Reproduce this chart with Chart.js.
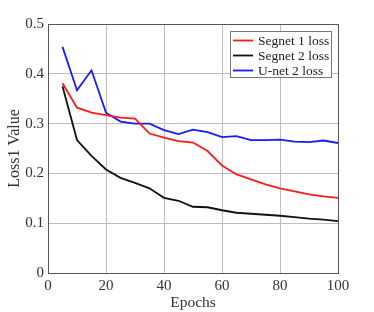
<!DOCTYPE html>
<html><head><meta charset="utf-8">
<script src="https://cdn.jsdelivr.net/npm/chart.js@4/dist/chart.umd.min.js"></script>
<style>html,body{margin:0;padding:0;background:#fff;}#wrap{width:374px;height:312px;position:relative;}</style>
</head><body><div id="wrap"><canvas id="c" width="374" height="312"></canvas></div>
<script>
const epochs = [5,10,15,20,25,30,35,40,45,50,55,60,65,70,75,80,85,90,95,100];
const segnet1 = [0.381,0.332,0.322,0.317,0.312,0.310,0.280,0.272,0.265,0.262,0.245,0.216,0.198,0.188,0.178,0.170,0.164,0.158,0.154,0.151];
const segnet2 = [0.375,0.267,0.235,0.208,0.191,0.181,0.170,0.151,0.145,0.133,0.132,0.126,0.121,0.119,0.117,0.115,0.112,0.109,0.107,0.104];
const unet2 = [0.454,0.367,0.407,0.322,0.304,0.300,0.300,0.287,0.279,0.288,0.283,0.273,0.275,0.267,0.267,0.268,0.264,0.263,0.266,0.261];
const seriesNames = ["Segnet 1 loss","Segnet 2 loss","U-net 2 loss"];
const seriesColors = ["#ff1a1a","#111111","#1a1aff"];
const xTitle = "Epochs";
const yTitle = "Loss1 Value";

const FONT = "'Liberation Serif','Times New Roman',serif";
const toPts = arr => arr.map((v,i)=>({x:epochs[i], y:v}));
const seriesData = [segnet1, segnet2, unet2];

const boxPlugin = {
  id:'box',
  afterDraw(chart){
    const {ctx, chartArea:a} = chart;
    ctx.save();
    ctx.strokeStyle = '#555';
    ctx.lineWidth = 1;
    ctx.strokeRect(Math.round(a.left)+0.5, Math.round(a.top)+0.5, Math.round(a.right-a.left), Math.round(a.bottom-a.top));
    // legend
    const lx = 230, ly = 31, lw = 101, lh = 46;
    ctx.fillStyle = '#fff';
    ctx.fillRect(lx, ly, lw, lh);
    ctx.strokeStyle = '#777';
    ctx.strokeRect(lx+0.5, ly+0.5, lw, lh);
    ctx.font = "13.5px " + FONT;
    ctx.textBaseline = 'middle';
    chart.data.datasets.forEach((ds,i)=>{
      const yy = ly + 9.5 + i*15;
      ctx.strokeStyle = ds.borderColor;
      ctx.lineWidth = 1.8;
      ctx.beginPath(); ctx.moveTo(lx+3, yy); ctx.lineTo(lx+23, yy); ctx.stroke();
      ctx.fillStyle = '#222';
      ctx.fillText(ds.label, lx+28, yy+0.5);
    });
    ctx.restore();
  }
};

new Chart(document.getElementById('c'), {
  type:'line',
  data:{
    datasets: seriesData.map((d,i)=>({
      label: seriesNames[i],
      data: toPts(d),
      borderColor: seriesColors[i],
      backgroundColor: seriesColors[i],
      borderWidth: 1.8,
      pointRadius: 0,
      tension: 0,
      fill:false
    }))
  },
  options:{
    responsive:false,
    animation:false,
    devicePixelRatio:1,
    layout:{padding:{left:0,right:36,top:24,bottom:0}},
    plugins:{legend:{display:false}, tooltip:{enabled:false}},
    scales:{
      x:{
        type:'linear', min:0, max:100,
        ticks:{stepSize:20, color:'#333', font:{family:FONT, size:15}, padding:4, maxRotation:0},
        grid:{color:'#bdbdbd', lineWidth:1, drawTicks:false},
        border:{display:false},
        title:{display:true, text:xTitle, color:'#333', font:{family:FONT, size:15.5}, padding:{top:0,bottom:0}},
        afterFit(s){ s.height = 39; }
      },
      y:{
        min:0, max:0.5,
        ticks:{stepSize:0.1, color:'#333', font:{family:FONT, size:15}, padding:4},
        grid:{color:'#bdbdbd', lineWidth:1, drawTicks:false},
        border:{display:false},
        title:{display:true, text:yTitle, color:'#333', font:{family:FONT, size:16}, padding:{top:5,bottom:2}},
        afterFit(s){ s.width = 48; }
      }
    }
  },
  plugins:[boxPlugin]
});
</script></body></html>
